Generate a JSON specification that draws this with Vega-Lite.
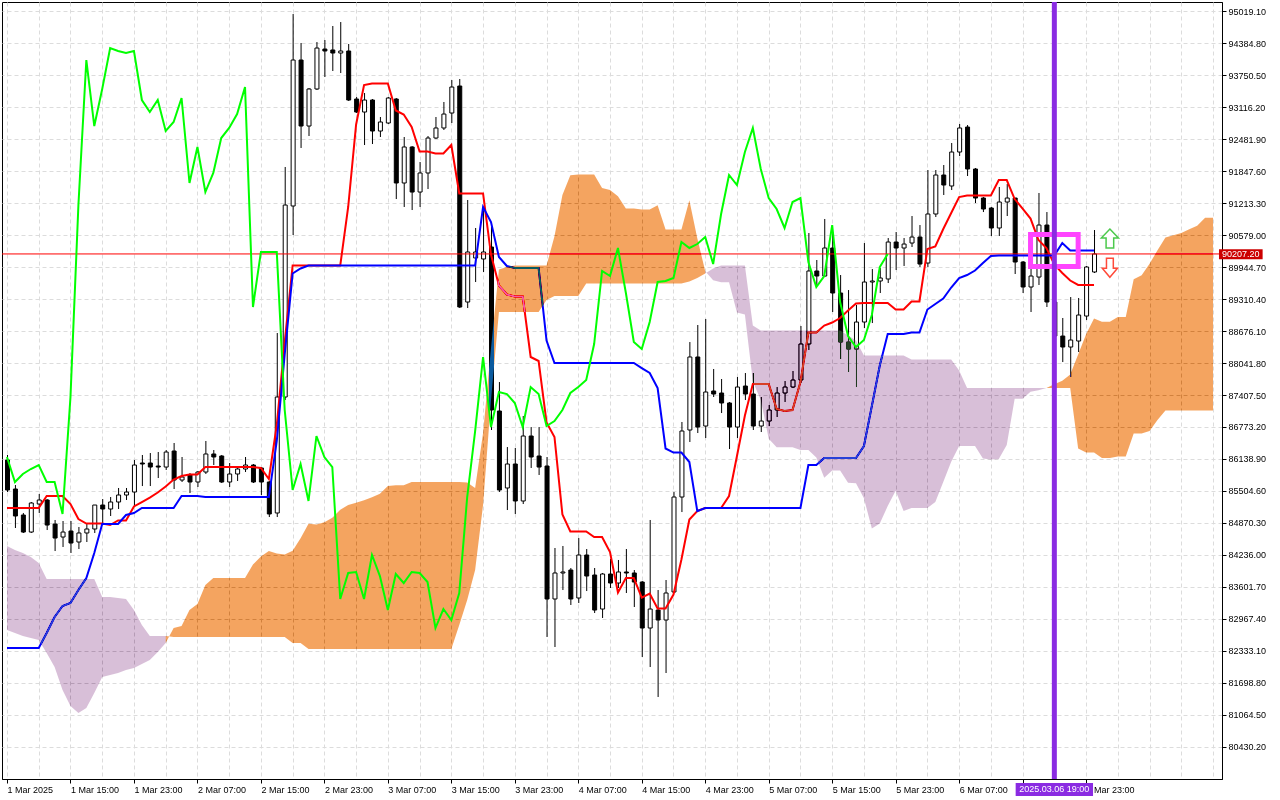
{
"$schema":"https://vega.github.io/schema/vega-lite/v6.json",
"width":1220,"height":777,
"autosize":{"type":"none"},
"padding":{"left":2,"top":2,"right":58,"bottom":21},
"background":"white",
"view":{"stroke":"black","strokeWidth":1},
"config":{"font":"Liberation Sans","axis":{"labelFont":"Liberation Sans","labelFontSize":9,"labelColor":"black","tickColor":"black","domainColor":"black","gridColor":"#dcdcdc","gridDash":[4,3],"gridWidth":1,"tickSize":4,"zindex":0,"labelOverlap":false,"labelSeparation":0}},
"datasets":{
"bars":[
{"t":"2025-03-01T07:00Z","o":86118,"h":86217,"l":85483,"c":85522,"tk":85165,"kj":82386,"ch":86177},
{"t":"2025-03-01T08:00Z","o":85542,"h":85621,"l":84768,"c":85006,"tk":85165,"kj":82386,"ch":85681},
{"t":"2025-03-01T09:00Z","o":85026,"h":85066,"l":84669,"c":84688,"tk":85165,"kj":82386,"ch":85840},
{"t":"2025-03-01T10:00Z","o":84688,"h":85284,"l":84669,"c":85264,"tk":85165,"kj":82386,"ch":85939},
{"t":"2025-03-01T11:00Z","o":85244,"h":85443,"l":85066,"c":85324,"tk":85165,"kj":82386,"ch":86018},
{"t":"2025-03-01T12:00Z","o":85324,"h":85343,"l":84728,"c":84827,"tk":85403,"kj":82684,"ch":85681},
{"t":"2025-03-01T13:00Z","o":84847,"h":84927,"l":84311,"c":84569,"tk":85403,"kj":83001,"ch":85681},
{"t":"2025-03-01T14:00Z","o":84589,"h":84907,"l":84391,"c":84688,"tk":85403,"kj":83220,"ch":85046},
{"t":"2025-03-01T15:00Z","o":84708,"h":84907,"l":84272,"c":84470,"tk":85244,"kj":83279,"ch":87368},
{"t":"2025-03-01T16:00Z","o":84490,"h":84788,"l":84351,"c":84669,"tk":84946,"kj":83537,"ch":91178},
{"t":"2025-03-01T17:00Z","o":84669,"h":84847,"l":84490,"c":84748,"tk":84857,"kj":83775,"ch":94056},
{"t":"2025-03-01T18:00Z","o":84748,"h":85224,"l":84669,"c":85224,"tk":84857,"kj":84272,"ch":92746},
{"t":"2025-03-01T19:00Z","o":85224,"h":85343,"l":84867,"c":85145,"tk":84857,"kj":84847,"ch":93481},
{"t":"2025-03-01T20:00Z","o":85145,"h":85383,"l":85006,"c":85284,"tk":84827,"kj":84847,"ch":94294},
{"t":"2025-03-01T21:00Z","o":85284,"h":85562,"l":85145,"c":85423,"tk":84917,"kj":84847,"ch":94235},
{"t":"2025-03-01T22:00Z","o":85423,"h":85562,"l":85324,"c":85482,"tk":84917,"kj":85026,"ch":94195},
{"t":"2025-03-01T23:00Z","o":85482,"h":86118,"l":85204,"c":86018,"tk":85195,"kj":85066,"ch":94235},
{"t":"2025-03-02T00:00Z","o":86058,"h":86217,"l":85601,"c":86038,"tk":85284,"kj":85165,"ch":93262},
{"t":"2025-03-02T01:00Z","o":86058,"h":86256,"l":85601,"c":85978,"tk":85373,"kj":85165,"ch":93024},
{"t":"2025-03-02T02:00Z","o":85998,"h":86276,"l":85760,"c":85978,"tk":85472,"kj":85165,"ch":93262},
{"t":"2025-03-02T03:00Z","o":85978,"h":86316,"l":85919,"c":86276,"tk":85591,"kj":85165,"ch":92647},
{"t":"2025-03-02T04:00Z","o":86296,"h":86455,"l":85542,"c":85720,"tk":85730,"kj":85165,"ch":92826},
{"t":"2025-03-02T05:00Z","o":85720,"h":86177,"l":85681,"c":85780,"tk":85800,"kj":85403,"ch":93302},
{"t":"2025-03-02T06:00Z","o":85820,"h":85859,"l":85462,"c":85681,"tk":85830,"kj":85403,"ch":91615},
{"t":"2025-03-02T07:00Z","o":85681,"h":85899,"l":85582,"c":85879,"tk":85830,"kj":85403,"ch":92330},
{"t":"2025-03-02T08:00Z","o":85879,"h":86495,"l":85840,"c":86237,"tk":85978,"kj":85383,"ch":91436},
{"t":"2025-03-02T09:00Z","o":86237,"h":86316,"l":86018,"c":86177,"tk":85978,"kj":85383,"ch":91814},
{"t":"2025-03-02T10:00Z","o":86197,"h":86217,"l":85661,"c":85681,"tk":85978,"kj":85383,"ch":92508},
{"t":"2025-03-02T11:00Z","o":85681,"h":86058,"l":85582,"c":85840,"tk":85978,"kj":85383,"ch":92707},
{"t":"2025-03-02T12:00Z","o":85840,"h":85998,"l":85701,"c":85939,"tk":85978,"kj":85383,"ch":92984},
{"t":"2025-03-02T13:00Z","o":85939,"h":86177,"l":85879,"c":86018,"tk":85978,"kj":85383,"ch":93520},
{"t":"2025-03-02T14:00Z","o":86018,"h":86038,"l":85661,"c":85681,"tk":85978,"kj":85383,"ch":89154},
{"t":"2025-03-02T15:00Z","o":85959,"h":85978,"l":85423,"c":85681,"tk":85959,"kj":85383,"ch":90246},
{"t":"2025-03-02T16:00Z","o":85681,"h":85701,"l":84986,"c":85046,"tk":85740,"kj":85383,"ch":90246},
{"t":"2025-03-02T17:00Z","o":85066,"h":88638,"l":84986,"c":87368,"tk":86812,"kj":86495,"ch":90246},
{"t":"2025-03-02T18:00Z","o":87368,"h":91933,"l":87308,"c":91178,"tk":88459,"kj":88211,"ch":87110},
{"t":"2025-03-02T19:00Z","o":91159,"h":94969,"l":90583,"c":94056,"tk":89978,"kj":89819,"ch":85522},
{"t":"2025-03-02T20:00Z","o":94056,"h":94394,"l":92310,"c":92746,"tk":89978,"kj":89918,"ch":86038},
{"t":"2025-03-02T21:00Z","o":92746,"h":93500,"l":92548,"c":93481,"tk":89978,"kj":89978,"ch":85304},
{"t":"2025-03-02T22:00Z","o":93481,"h":94413,"l":93461,"c":94294,"tk":89978,"kj":89978,"ch":86594},
{"t":"2025-03-02T23:00Z","o":94274,"h":94453,"l":93719,"c":94235,"tk":89978,"kj":89978,"ch":86177},
{"t":"2025-03-03T00:00Z","o":94255,"h":94731,"l":93838,"c":94195,"tk":89978,"kj":89978,"ch":85978},
{"t":"2025-03-03T01:00Z","o":94195,"h":94810,"l":93798,"c":94235,"tk":89978,"kj":89978,"ch":83359},
{"t":"2025-03-03T02:00Z","o":94235,"h":94374,"l":93243,"c":93262,"tk":91139,"kj":89978,"ch":83875},
{"t":"2025-03-03T03:00Z","o":93282,"h":93322,"l":93004,"c":93024,"tk":92776,"kj":89978,"ch":83895},
{"t":"2025-03-03T04:00Z","o":93024,"h":93401,"l":92369,"c":93262,"tk":93560,"kj":89978,"ch":83359},
{"t":"2025-03-03T05:00Z","o":93262,"h":93282,"l":92389,"c":92647,"tk":93590,"kj":89978,"ch":84232},
{"t":"2025-03-03T06:00Z","o":92647,"h":92925,"l":92528,"c":92826,"tk":93590,"kj":89978,"ch":83815},
{"t":"2025-03-03T07:00Z","o":92806,"h":93322,"l":92786,"c":93302,"tk":93590,"kj":89978,"ch":83140},
{"t":"2025-03-03T08:00Z","o":93282,"h":93302,"l":91297,"c":91615,"tk":93054,"kj":89978,"ch":83855},
{"t":"2025-03-03T09:00Z","o":91615,"h":92528,"l":91139,"c":92330,"tk":92975,"kj":89978,"ch":83676},
{"t":"2025-03-03T10:00Z","o":92330,"h":92349,"l":91079,"c":91436,"tk":92726,"kj":89978,"ch":83895},
{"t":"2025-03-03T11:00Z","o":91436,"h":92032,"l":91139,"c":91814,"tk":92240,"kj":89978,"ch":83875},
{"t":"2025-03-03T12:00Z","o":91814,"h":92548,"l":91496,"c":92508,"tk":92240,"kj":89978,"ch":83696},
{"t":"2025-03-03T13:00Z","o":92508,"h":92925,"l":92488,"c":92707,"tk":92201,"kj":89978,"ch":82783},
{"t":"2025-03-03T14:00Z","o":92707,"h":93223,"l":92667,"c":92984,"tk":92201,"kj":89978,"ch":83160},
{"t":"2025-03-03T15:00Z","o":93004,"h":93659,"l":92806,"c":93520,"tk":92369,"kj":89978,"ch":82942},
{"t":"2025-03-03T16:00Z","o":93540,"h":93679,"l":89134,"c":89154,"tk":91407,"kj":89978,"ch":83478},
{"t":"2025-03-03T17:00Z","o":89253,"h":91278,"l":89134,"c":90246,"tk":91407,"kj":89978,"ch":85383},
{"t":"2025-03-03T18:00Z","o":90127,"h":90722,"l":89650,"c":90246,"tk":91407,"kj":89978,"ch":86693},
{"t":"2025-03-03T19:00Z","o":90107,"h":91119,"l":89849,"c":90246,"tk":91407,"kj":91139,"ch":88162},
{"t":"2025-03-03T20:00Z","o":90345,"h":90742,"l":86713,"c":87110,"tk":90196,"kj":90841,"ch":86772},
{"t":"2025-03-03T21:00Z","o":87090,"h":87665,"l":85483,"c":85522,"tk":89581,"kj":90146,"ch":87467},
{"t":"2025-03-03T22:00Z","o":85562,"h":86375,"l":85125,"c":86038,"tk":89402,"kj":89968,"ch":87427},
{"t":"2025-03-03T23:00Z","o":86038,"h":86356,"l":85046,"c":85304,"tk":89362,"kj":89928,"ch":87249},
{"t":"2025-03-04T00:00Z","o":85304,"h":86991,"l":85244,"c":86594,"tk":89362,"kj":89928,"ch":86772},
{"t":"2025-03-04T01:00Z","o":86594,"h":86772,"l":85959,"c":86177,"tk":88162,"kj":89928,"ch":87566},
{"t":"2025-03-04T02:00Z","o":86197,"h":86772,"l":85820,"c":85978,"tk":88082,"kj":89928,"ch":87427},
{"t":"2025-03-04T03:00Z","o":85998,"h":86177,"l":82605,"c":83359,"tk":86862,"kj":88489,"ch":86792},
{"t":"2025-03-04T04:00Z","o":83359,"h":84371,"l":82406,"c":83875,"tk":86574,"kj":88043,"ch":86891},
{"t":"2025-03-04T05:00Z","o":83875,"h":84411,"l":83537,"c":83895,"tk":85036,"kj":88043,"ch":87110},
{"t":"2025-03-04T06:00Z","o":83934,"h":83974,"l":83240,"c":83359,"tk":84698,"kj":88043,"ch":87447},
{"t":"2025-03-04T07:00Z","o":83379,"h":84569,"l":83279,"c":84232,"tk":84698,"kj":88043,"ch":87566},
{"t":"2025-03-04T08:00Z","o":84232,"h":84351,"l":83517,"c":83815,"tk":84698,"kj":88043,"ch":87705},
{"t":"2025-03-04T09:00Z","o":83835,"h":83974,"l":83081,"c":83140,"tk":84589,"kj":88043,"ch":88420},
{"t":"2025-03-04T10:00Z","o":83160,"h":83875,"l":82982,"c":83855,"tk":84589,"kj":88043,"ch":89869},
{"t":"2025-03-04T11:00Z","o":83855,"h":84153,"l":83577,"c":83676,"tk":84292,"kj":88043,"ch":89769},
{"t":"2025-03-04T12:00Z","o":83676,"h":84133,"l":83577,"c":83895,"tk":83488,"kj":88043,"ch":90325},
{"t":"2025-03-04T13:00Z","o":83895,"h":84351,"l":83478,"c":83875,"tk":83775,"kj":88043,"ch":89432},
{"t":"2025-03-04T14:00Z","o":83875,"h":83934,"l":83200,"c":83696,"tk":83775,"kj":88043,"ch":88459},
{"t":"2025-03-04T15:00Z","o":83696,"h":83716,"l":82208,"c":82783,"tk":83388,"kj":87943,"ch":88320},
{"t":"2025-03-04T16:00Z","o":82783,"h":84927,"l":82009,"c":83160,"tk":83468,"kj":87844,"ch":88856},
{"t":"2025-03-04T17:00Z","o":83140,"h":83537,"l":81414,"c":82942,"tk":83170,"kj":87546,"ch":89650},
{"t":"2025-03-04T18:00Z","o":82942,"h":83736,"l":81890,"c":83478,"tk":83170,"kj":86346,"ch":89670},
{"t":"2025-03-04T19:00Z","o":83498,"h":85482,"l":83478,"c":85383,"tk":83448,"kj":86266,"ch":89730},
{"t":"2025-03-04T20:00Z","o":85383,"h":86872,"l":85085,"c":86693,"tk":84143,"kj":86266,"ch":90444},
{"t":"2025-03-04T21:00Z","o":86713,"h":88459,"l":86475,"c":88162,"tk":84937,"kj":86078,"ch":90325},
{"t":"2025-03-04T22:00Z","o":88162,"h":88797,"l":86653,"c":86772,"tk":85105,"kj":85105,"ch":90404},
{"t":"2025-03-04T23:00Z","o":86792,"h":88916,"l":86554,"c":87467,"tk":85165,"kj":85165,"ch":90543},
{"t":"2025-03-05T00:00Z","o":87487,"h":87924,"l":87368,"c":87427,"tk":85165,"kj":85165,"ch":90007},
{"t":"2025-03-05T01:00Z","o":87447,"h":87725,"l":87050,"c":87249,"tk":85165,"kj":85165,"ch":91000},
{"t":"2025-03-05T02:00Z","o":87249,"h":87269,"l":86336,"c":86772,"tk":85403,"kj":85165,"ch":91774},
{"t":"2025-03-05T03:00Z","o":86772,"h":87765,"l":86554,"c":87566,"tk":86197,"kj":85165,"ch":91575},
{"t":"2025-03-05T04:00Z","o":87586,"h":87844,"l":87308,"c":87427,"tk":87001,"kj":85165,"ch":92230},
{"t":"2025-03-05T05:00Z","o":87427,"h":87844,"l":86713,"c":86792,"tk":87626,"kj":85165,"ch":92707},
{"t":"2025-03-05T06:00Z","o":86792,"h":87368,"l":86673,"c":86891,"tk":87626,"kj":85165,"ch":91893},
{"t":"2025-03-05T07:00Z","o":86891,"h":87209,"l":86792,"c":87110,"tk":87626,"kj":85165,"ch":91317},
{"t":"2025-03-05T08:00Z","o":87110,"h":87566,"l":86971,"c":87447,"tk":87130,"kj":85165,"ch":91099},
{"t":"2025-03-05T09:00Z","o":87447,"h":87685,"l":87269,"c":87566,"tk":87090,"kj":85165,"ch":90722},
{"t":"2025-03-05T10:00Z","o":87566,"h":87884,"l":87546,"c":87705,"tk":87110,"kj":85165,"ch":91238},
{"t":"2025-03-05T11:00Z","o":87705,"h":88777,"l":87646,"c":88420,"tk":87665,"kj":85165,"ch":91317},
{"t":"2025-03-05T12:00Z","o":88420,"h":90623,"l":88301,"c":89869,"tk":88648,"kj":86018,"ch":90047},
{"t":"2025-03-05T13:00Z","o":89869,"h":90087,"l":89571,"c":89769,"tk":88648,"kj":86018,"ch":89551},
{"t":"2025-03-05T14:00Z","o":89769,"h":90901,"l":89749,"c":90325,"tk":88787,"kj":86157,"ch":89769},
{"t":"2025-03-05T15:00Z","o":90325,"h":90643,"l":89055,"c":89432,"tk":88846,"kj":86157,"ch":90781},
{"t":"2025-03-05T16:00Z","o":89432,"h":89789,"l":88122,"c":88459,"tk":88936,"kj":86157,"ch":89253},
{"t":"2025-03-05T17:00Z","o":88459,"h":89491,"l":87864,"c":88320,"tk":89085,"kj":86157,"ch":88578},
{"t":"2025-03-05T18:00Z","o":88320,"h":89194,"l":87566,"c":88856,"tk":89223,"kj":86157,"ch":88360},
{"t":"2025-03-05T19:00Z","o":88856,"h":90424,"l":88737,"c":89650,"tk":89233,"kj":86395,"ch":88499},
{"t":"2025-03-05T20:00Z","o":89650,"h":89908,"l":88836,"c":89670,"tk":89233,"kj":87189,"ch":88995},
{"t":"2025-03-05T21:00Z","o":89670,"h":89928,"l":89432,"c":89730,"tk":89233,"kj":87993,"ch":89948},
{"t":"2025-03-05T22:00Z","o":89710,"h":90523,"l":89630,"c":90444,"tk":89233,"kj":88618,"ch":90207.2},
{"t":"2025-03-05T23:00Z","o":90444,"h":90643,"l":89888,"c":90325,"tk":89104,"kj":88618},
{"t":"2025-03-06T00:00Z","o":90325,"h":90523,"l":89968,"c":90404,"tk":89104,"kj":88618},
{"t":"2025-03-06T01:00Z","o":90424,"h":90960,"l":90345,"c":90543,"tk":89263,"kj":88648},
{"t":"2025-03-06T02:00Z","o":90543,"h":90781,"l":89948,"c":90007,"tk":89263,"kj":88648},
{"t":"2025-03-06T03:00Z","o":90027,"h":91873,"l":89948,"c":91000,"tk":90305,"kj":89104},
{"t":"2025-03-06T04:00Z","o":91000,"h":91873,"l":90940,"c":91774,"tk":90355,"kj":89214},
{"t":"2025-03-06T05:00Z","o":91774,"h":91972,"l":91377,"c":91575,"tk":90702,"kj":89323},
{"t":"2025-03-06T06:00Z","o":91556,"h":92409,"l":91476,"c":92230,"tk":91020,"kj":89541},
{"t":"2025-03-06T07:00Z","o":92230,"h":92786,"l":92151,"c":92707,"tk":91337,"kj":89730},
{"t":"2025-03-06T08:00Z","o":92726,"h":92766,"l":91754,"c":91893,"tk":91367,"kj":89789},
{"t":"2025-03-06T09:00Z","o":91893,"h":91913,"l":91218,"c":91317,"tk":91367,"kj":89878},
{"t":"2025-03-06T10:00Z","o":91317,"h":91337,"l":91039,"c":91099,"tk":91367,"kj":90027},
{"t":"2025-03-06T11:00Z","o":91119,"h":91139,"l":90563,"c":90722,"tk":91367,"kj":90166},
{"t":"2025-03-06T12:00Z","o":90722,"h":91536,"l":90563,"c":91238,"tk":91675,"kj":90176},
{"t":"2025-03-06T13:00Z","o":91238,"h":91595,"l":90960,"c":91317,"tk":91675,"kj":90176},
{"t":"2025-03-06T14:00Z","o":91317,"h":91317,"l":89809,"c":90047,"tk":91297,"kj":90176},
{"t":"2025-03-06T15:00Z","o":90047,"h":90067,"l":89432,"c":89551,"tk":91109,"kj":90176},
{"t":"2025-03-06T16:00Z","o":89551,"h":90146,"l":89055,"c":89769,"tk":90910,"kj":90176},
{"t":"2025-03-06T17:00Z","o":89749,"h":91417,"l":89591,"c":90781,"tk":90484,"kj":90176},
{"t":"2025-03-06T18:00Z","o":90781,"h":91039,"l":89154,"c":89253,"tk":90325,"kj":90176},
{"t":"2025-03-06T19:00Z","o":89253,"h":89333,"l":88400,"c":88578,"tk":89998,"kj":90176},
{"t":"2025-03-06T20:00Z","o":88578,"h":88936,"l":88062,"c":88360,"tk":89829,"kj":90424},
{"t":"2025-03-06T21:00Z","o":88360,"h":89352,"l":87765,"c":88499,"tk":89680,"kj":90275},
{"t":"2025-03-06T22:00Z","o":88479,"h":89333,"l":88261,"c":88995,"tk":89591,"kj":90275},
{"t":"2025-03-06T23:00Z","o":88975,"h":89968,"l":88896,"c":89948,"tk":89591,"kj":90275},
{"t":"2025-03-07T00:00Z","o":89849,"h":90682,"l":89829,"c":90207.2,"tk":89591,"kj":90275}
],
"cloud":[
{"t":"2025-03-01T07:00Z","a":82743,"b":84411},{"t":"2025-03-01T08:00Z","a":82684,"b":84331},{"t":"2025-03-01T09:00Z","a":82624,"b":84272},{"t":"2025-03-01T10:00Z","a":82585,"b":84192},{"t":"2025-03-01T11:00Z","a":82545,"b":84073},{"t":"2025-03-01T12:00Z","a":82287,"b":83756},{"t":"2025-03-01T13:00Z","a":82009,"b":83756},{"t":"2025-03-01T14:00Z","a":81553,"b":83756},{"t":"2025-03-01T15:00Z","a":81235,"b":83756},{"t":"2025-03-01T16:00Z","a":81096,"b":83756},{"t":"2025-03-01T17:00Z","a":81195,"b":83756},{"t":"2025-03-01T18:00Z","a":81493,"b":83756},{"t":"2025-03-01T19:00Z","a":81811,"b":83398},{"t":"2025-03-01T20:00Z","a":81850,"b":83398},{"t":"2025-03-01T21:00Z","a":81890,"b":83379},{"t":"2025-03-01T22:00Z","a":81950,"b":83359},{"t":"2025-03-01T23:00Z","a":81989,"b":83140},
{"t":"2025-03-02T00:00Z","a":82069,"b":82843},{"t":"2025-03-02T01:00Z","a":82148,"b":82624},{"t":"2025-03-02T02:00Z","a":82307,"b":82624},{"t":"2025-03-02T03:00Z","a":82485,"b":82624},{"t":"2025-03-02T04:00Z","a":82783,"b":82605},{"t":"2025-03-02T05:00Z","a":82823,"b":82605},{"t":"2025-03-02T06:00Z","a":83140,"b":82605},{"t":"2025-03-02T07:00Z","a":83259,"b":82605},{"t":"2025-03-02T08:00Z","a":83636,"b":82605},{"t":"2025-03-02T09:00Z","a":83775,"b":82605},{"t":"2025-03-02T10:00Z","a":83775,"b":82605},{"t":"2025-03-02T11:00Z","a":83775,"b":82605},{"t":"2025-03-02T12:00Z","a":83775,"b":82605},{"t":"2025-03-02T13:00Z","a":83775,"b":82605},{"t":"2025-03-02T14:00Z","a":84043,"b":82605},{"t":"2025-03-02T15:00Z","a":84202,"b":82605},{"t":"2025-03-02T16:00Z","a":84311,"b":82605},{"t":"2025-03-02T17:00Z","a":84262,"b":82605},{"t":"2025-03-02T18:00Z","a":84242,"b":82605},{"t":"2025-03-02T19:00Z","a":84316,"b":82485},{"t":"2025-03-02T20:00Z","a":84564,"b":82485},{"t":"2025-03-02T21:00Z","a":84852,"b":82366},{"t":"2025-03-02T22:00Z","a":84837,"b":82366},{"t":"2025-03-02T23:00Z","a":84882,"b":82366},
{"t":"2025-03-03T00:00Z","a":84971,"b":82366},{"t":"2025-03-03T01:00Z","a":85130,"b":82366},{"t":"2025-03-03T02:00Z","a":85224,"b":82366},{"t":"2025-03-03T03:00Z","a":85269,"b":82366},{"t":"2025-03-03T04:00Z","a":85319,"b":82366},{"t":"2025-03-03T05:00Z","a":85378,"b":82366},{"t":"2025-03-03T06:00Z","a":85448,"b":82366},{"t":"2025-03-03T07:00Z","a":85601,"b":82366},{"t":"2025-03-03T08:00Z","a":85616,"b":82366},{"t":"2025-03-03T09:00Z","a":85616,"b":82366},{"t":"2025-03-03T10:00Z","a":85681,"b":82366},{"t":"2025-03-03T11:00Z","a":85681,"b":82366},{"t":"2025-03-03T12:00Z","a":85681,"b":82366},{"t":"2025-03-03T13:00Z","a":85681,"b":82366},{"t":"2025-03-03T14:00Z","a":85681,"b":82366},{"t":"2025-03-03T15:00Z","a":85681,"b":82366},{"t":"2025-03-03T16:00Z","a":85681,"b":82843},{"t":"2025-03-03T17:00Z","a":85671,"b":83339},{"t":"2025-03-03T18:00Z","a":85562,"b":83934},{"t":"2025-03-03T19:00Z","a":86653,"b":85224},{"t":"2025-03-03T20:00Z","a":88335,"b":87308},{"t":"2025-03-03T21:00Z","a":89898,"b":89055},{"t":"2025-03-03T22:00Z","a":89948,"b":89055},{"t":"2025-03-03T23:00Z","a":89978,"b":89055},
{"t":"2025-03-04T00:00Z","a":89978,"b":89055},{"t":"2025-03-04T01:00Z","a":89978,"b":89055},{"t":"2025-03-04T02:00Z","a":89978,"b":89055},{"t":"2025-03-04T03:00Z","a":89978,"b":89293},{"t":"2025-03-04T04:00Z","a":90558,"b":89372},{"t":"2025-03-04T05:00Z","a":91377,"b":89372},{"t":"2025-03-04T06:00Z","a":91769,"b":89372},{"t":"2025-03-04T07:00Z","a":91784,"b":89372},{"t":"2025-03-04T08:00Z","a":91784,"b":89620},{"t":"2025-03-04T09:00Z","a":91784,"b":89620},{"t":"2025-03-04T10:00Z","a":91516,"b":89620},{"t":"2025-03-04T11:00Z","a":91476,"b":89620},{"t":"2025-03-04T12:00Z","a":91352,"b":89620},{"t":"2025-03-04T13:00Z","a":91109,"b":89620},{"t":"2025-03-04T14:00Z","a":91109,"b":89620},{"t":"2025-03-04T15:00Z","a":91089,"b":89620},{"t":"2025-03-04T16:00Z","a":91089,"b":89620},{"t":"2025-03-04T17:00Z","a":91173,"b":89620},{"t":"2025-03-04T18:00Z","a":90692,"b":89620},{"t":"2025-03-04T19:00Z","a":90692,"b":89620},{"t":"2025-03-04T20:00Z","a":90692,"b":89620},{"t":"2025-03-04T21:00Z","a":91273,"b":89660},{"t":"2025-03-04T22:00Z","a":90519,"b":89730},{"t":"2025-03-04T23:00Z","a":89864,"b":89819},
{"t":"2025-03-05T00:00Z","a":89685,"b":89918},{"t":"2025-03-05T01:00Z","a":89645,"b":89978},{"t":"2025-03-05T02:00Z","a":89645,"b":89978},{"t":"2025-03-05T03:00Z","a":89045,"b":89978},{"t":"2025-03-05T04:00Z","a":89005,"b":89978},{"t":"2025-03-05T05:00Z","a":87675,"b":88787},{"t":"2025-03-05T06:00Z","a":87308,"b":88688},{"t":"2025-03-05T07:00Z","a":86539,"b":88688},{"t":"2025-03-05T08:00Z","a":86370,"b":88688},{"t":"2025-03-05T09:00Z","a":86370,"b":88688},{"t":"2025-03-05T10:00Z","a":86370,"b":88688},{"t":"2025-03-05T11:00Z","a":86316,"b":88688},{"t":"2025-03-05T12:00Z","a":86316,"b":88688},{"t":"2025-03-05T13:00Z","a":86167,"b":88688},{"t":"2025-03-05T14:00Z","a":85765,"b":88688},{"t":"2025-03-05T15:00Z","a":85909,"b":88688},{"t":"2025-03-05T16:00Z","a":85909,"b":88688},{"t":"2025-03-05T17:00Z","a":85666,"b":88588},{"t":"2025-03-05T18:00Z","a":85656,"b":88489},{"t":"2025-03-05T19:00Z","a":85358,"b":88191},{"t":"2025-03-05T20:00Z","a":84758,"b":88191},{"t":"2025-03-05T21:00Z","a":84857,"b":88191},{"t":"2025-03-05T22:00Z","a":85204,"b":88191},{"t":"2025-03-05T23:00Z","a":85507,"b":88191},
{"t":"2025-03-06T00:00Z","a":85105,"b":88191},{"t":"2025-03-06T01:00Z","a":85165,"b":88112},{"t":"2025-03-06T02:00Z","a":85165,"b":88112},{"t":"2025-03-06T03:00Z","a":85165,"b":88112},{"t":"2025-03-06T04:00Z","a":85284,"b":88112},{"t":"2025-03-06T05:00Z","a":85681,"b":88112},{"t":"2025-03-06T06:00Z","a":86083,"b":88112},{"t":"2025-03-06T07:00Z","a":86395,"b":87894},{"t":"2025-03-06T08:00Z","a":86395,"b":87546},{"t":"2025-03-06T09:00Z","a":86395,"b":87546},{"t":"2025-03-06T10:00Z","a":86147,"b":87546},{"t":"2025-03-06T11:00Z","a":86127,"b":87546},{"t":"2025-03-06T12:00Z","a":86137,"b":87546},{"t":"2025-03-06T13:00Z","a":86415,"b":87546},{"t":"2025-03-06T14:00Z","a":87333,"b":87546},{"t":"2025-03-06T15:00Z","a":87333,"b":87546},{"t":"2025-03-06T16:00Z","a":87472,"b":87546},{"t":"2025-03-06T17:00Z","a":87502,"b":87546},{"t":"2025-03-06T18:00Z","a":87546,"b":87546},{"t":"2025-03-06T19:00Z","a":87621,"b":87546},{"t":"2025-03-06T20:00Z","a":87690,"b":87546},{"t":"2025-03-06T21:00Z","a":87814,"b":87546},{"t":"2025-03-06T22:00Z","a":88211,"b":86346},{"t":"2025-03-06T23:00Z","a":88613,"b":86266},
{"t":"2025-03-07T00:00Z","a":88926,"b":86266},{"t":"2025-03-07T01:00Z","a":88861,"b":86157},{"t":"2025-03-07T02:00Z","a":88861,"b":86157},{"t":"2025-03-07T03:00Z","a":88956,"b":86187},{"t":"2025-03-07T04:00Z","a":88956,"b":86187},{"t":"2025-03-07T05:00Z","a":89705,"b":86643},{"t":"2025-03-07T06:00Z","a":89784,"b":86643},{"t":"2025-03-07T07:00Z","a":90012,"b":86693},{"t":"2025-03-07T08:00Z","a":90280,"b":86911},{"t":"2025-03-07T09:00Z","a":90533,"b":87100},{"t":"2025-03-07T10:00Z","a":90578,"b":87100},{"t":"2025-03-07T11:00Z","a":90623,"b":87100},{"t":"2025-03-07T12:00Z","a":90697,"b":87100},{"t":"2025-03-07T13:00Z","a":90767,"b":87100},{"t":"2025-03-07T14:00Z","a":90925,"b":87100},{"t":"2025-03-07T15:00Z","a":90925,"b":87100}
]
},
"layer":[
{"data":{"name":"bars"},
 "mark":{"type":"rule","color":"black","strokeWidth":1,"xOffset":0.5,"clip":true},
 "encoding":{
  "x":{"field":"t","type":"temporal","title":null,
   "scale":{"type":"utc","domain":[{"year":2025,"month":3,"date":1,"hours":7,"utc":true},{"year":2025,"month":3,"date":7,"hours":15,"minutes":30,"utc":true}]},
   "axis":{"values":[1740812400000,1740826800000,1740841200000,1740855600000,1740870000000,1740884400000,1740898800000,1740913200000,1740927600000,1740942000000,1740956400000,1740970800000,1740985200000,1740999600000,1741014000000,1741028400000,1741042800000,1741057200000,1741071600000,1741086000000,1741100400000,1741114800000,1741129200000,1741143600000,1741158000000,1741172400000,1741186800000,1741201200000,1741215600000,1741230000000,1741244400000,1741258800000,1741273200000,1741287600000,1741302000000,1741316400000,1741330800000,1741345200000,1741359600000],
    "tickCount":100,
    "labelExpr":"((+datum.value - 1740812400000) % 28800000 !== 0 || +datum.value > 1741302000000 || +datum.value === 1741273200000) ? '' : (+datum.value === 1740812400000 ? '1 Mar 2025' : utcFormat(datum.value, '%-d %b %H:%M'))",
    "tickOpacity":{"condition":{"test":"(+datum.value - 1740812400000) % 28800000 === 0 && +datum.value <= 1741302000000","value":1},"value":0},
    "labelAlign":"left","labelBaseline":"top","labelPadding":2,"labelFlush":false,"labelOverlap":false,"labelBound":false,"grid":true,"domain":true}},
  "y":{"field":"l","type":"quantitative","title":null,
   "scale":{"domain":[79786.5,95207.6],"zero":false,"nice":false},
   "axis":{"orient":"right","values":[95019.1,94384.8,93750.5,93116.2,92481.9,91847.6,91213.3,90579.0,89944.7,89310.4,88676.1,88041.8,87407.5,86773.2,86138.9,85504.6,84870.3,84236.0,83601.7,82967.4,82333.1,81698.8,81064.5,80430.2],"tickCount":100,"format":".2f","labelPadding":2,"labelFlush":false,"labelOverlap":false,"labelBound":false,"grid":true,"domain":true}},
  "y2":{"field":"h"}}},
{"data":{"name":"bars"},
 "mark":{"type":"bar","width":4,"stroke":"black","strokeWidth":1,"xOffset":0.5,"clip":true},
 "encoding":{"x":{"field":"t","type":"temporal","title":null},"y":{"field":"o","type":"quantitative","title":null},"y2":{"field":"c"},
  "fill":{"condition":{"test":"datum.c >= datum.o","value":"white"},"value":"black"}}},
{"data":{"values":[{}]},
 "mark":{"type":"rule","color":"#ff0000","strokeWidth":1},
 "encoding":{"y":{"datum":90207.2,"type":"quantitative","title":null}}},
{"data":{"name":"bars"},
 "mark":{"type":"line","color":"#ff0000","strokeWidth":2},
 "encoding":{"x":{"field":"t","type":"temporal","title":null},"y":{"field":"tk","type":"quantitative","title":null}}},
{"data":{"name":"bars"},
 "mark":{"type":"line","color":"#0000ff","strokeWidth":2},
 "encoding":{"x":{"field":"t","type":"temporal","title":null},"y":{"field":"kj","type":"quantitative","title":null}}},
{"data":{"name":"cloud"},
 "transform":[{"filter":{"field":"t","range":[{"year":2025,"month":3,"date":1,"hours":7,"utc":true},{"year":2025,"month":3,"date":2,"hours":3,"utc":true}]}}],
 "mark":{"type":"area","fill":"#274027","blend":"difference"},
 "encoding":{"x":{"field":"t","type":"temporal","title":null},"y":{"field":"a","type":"quantitative","title":null},"y2":{"field":"b"}}},
{"data":{"name":"cloud"},
 "transform":[{"filter":{"field":"t","range":[{"year":2025,"month":3,"date":2,"hours":3,"utc":true},{"year":2025,"month":3,"date":4,"hours":23,"utc":true}]}}],
 "mark":{"type":"area","fill":"#0b5b9f","blend":"difference"},
 "encoding":{"x":{"field":"t","type":"temporal","title":null},"y":{"field":"a","type":"quantitative","title":null},"y2":{"field":"b"}}},
{"data":{"name":"cloud"},
 "transform":[{"filter":{"field":"t","range":[{"year":2025,"month":3,"date":4,"hours":23,"utc":true},{"year":2025,"month":3,"date":6,"hours":18,"utc":true}]}}],
 "mark":{"type":"area","fill":"#274027","blend":"difference"},
 "encoding":{"x":{"field":"t","type":"temporal","title":null},"y":{"field":"a","type":"quantitative","title":null},"y2":{"field":"b"}}},
{"data":{"name":"cloud"},
 "transform":[{"filter":{"field":"t","range":[{"year":2025,"month":3,"date":6,"hours":18,"utc":true},{"year":2025,"month":3,"date":7,"hours":15,"utc":true}]}}],
 "mark":{"type":"area","fill":"#0b5b9f","blend":"difference"},
 "encoding":{"x":{"field":"t","type":"temporal","title":null},"y":{"field":"a","type":"quantitative","title":null},"y2":{"field":"b"}}},
{"data":{"name":"bars"},
 "mark":{"type":"line","color":"#00ff00","strokeWidth":2},
 "encoding":{"x":{"field":"t","type":"temporal","title":null},"y":{"field":"ch","type":"quantitative","title":null}}},
{"data":{"values":[{}]},
 "mark":{"type":"rect","fillOpacity":0,"stroke":"#ff44ff","strokeWidth":5},
 "encoding":{"x":{"datum":{"year":2025,"month":3,"date":6,"hours":16,"utc":true},"type":"temporal","title":null},
  "x2":{"datum":{"year":2025,"month":3,"date":6,"hours":22,"utc":true}},
  "y":{"datum":90593,"type":"quantitative","title":null},"y2":{"datum":89958}}},
{"data":{"values":[{}]},
 "mark":{"type":"rule","color":"#8a2be2","strokeWidth":5},
 "encoding":{"x":{"datum":{"year":2025,"month":3,"date":6,"hours":19,"utc":true},"type":"temporal","title":null}}},
{"data":{"values":[{}]},
 "mark":{"type":"point","shape":"M0,-1L0.9,-0.05L0.4,-0.05L0.4,1L-0.4,1L-0.4,-0.05L-0.9,-0.05Z","size":361,"filled":true,"fill":"white","stroke":"#4cc94c","strokeWidth":1.5,"opacity":1},
 "encoding":{"x":{"datum":{"year":2025,"month":3,"date":7,"hours":2,"utc":true},"type":"temporal","title":null},"y":{"datum":90514,"type":"quantitative","title":null}}},
{"data":{"values":[{}]},
 "mark":{"type":"point","shape":"M0,1L0.8,0.05L0.36,0.05L0.36,-1L-0.36,-1L-0.36,0.05L-0.8,0.05Z","size":361,"filled":true,"fill":"white","stroke":"#ff4a3a","strokeWidth":1.5,"opacity":1},
 "encoding":{"x":{"datum":{"year":2025,"month":3,"date":7,"hours":2,"utc":true},"type":"temporal","title":null},"y":{"datum":89932,"type":"quantitative","title":null}}},
{"data":{"values":[{}]},
 "mark":{"type":"rect","fill":"#cc0000"},
 "encoding":{"x":{"datum":{"year":2025,"month":3,"date":7,"hours":15,"minutes":45,"utc":true},"type":"temporal","title":null},
  "x2":{"datum":{"year":2025,"month":3,"date":7,"hours":21,"minutes":15,"utc":true}},
  "y":{"datum":90299,"type":"quantitative","title":null},"y2":{"datum":90101}}},
{"data":{"values":[{}]},
 "mark":{"type":"text","text":"90207.20","color":"white","font":"Liberation Sans","fontSize":9,"align":"center","baseline":"middle"},
 "encoding":{"x":{"datum":{"year":2025,"month":3,"date":7,"hours":18,"minutes":30,"utc":true},"type":"temporal","title":null},"y":{"datum":90207.2,"type":"quantitative","title":null}}},
{"data":{"values":[{}]},
 "mark":{"type":"rect","fill":"#8a2be2"},
 "encoding":{"x":{"datum":{"year":2025,"month":3,"date":6,"hours":14,"minutes":7,"seconds":30,"utc":true},"type":"temporal","title":null},
  "x2":{"datum":{"year":2025,"month":3,"date":6,"hours":23,"minutes":52,"seconds":30,"utc":true}},
  "y":{"datum":79707,"type":"quantitative","title":null},"y2":{"datum":79449}}},
{"data":{"values":[{}]},
 "mark":{"type":"text","text":"2025.03.06 19:00","color":"white","font":"Liberation Sans","fontSize":9,"align":"center","baseline":"middle"},
 "encoding":{"x":{"datum":{"year":2025,"month":3,"date":6,"hours":19,"utc":true},"type":"temporal","title":null},"y":{"datum":79584,"type":"quantitative","title":null}}}
]
}
